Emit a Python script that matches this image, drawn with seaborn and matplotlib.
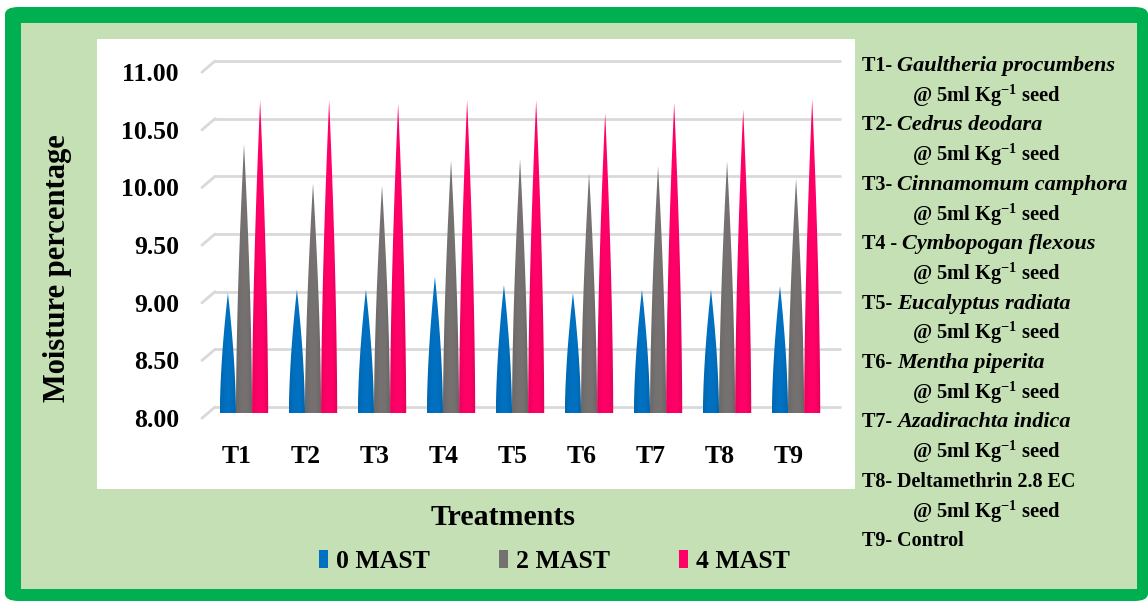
import numpy as np
import pandas as pd
import seaborn as sns
import matplotlib.pyplot as plt
from matplotlib.patches import Polygon, Rectangle, FancyBboxPatch, Patch
from matplotlib.colors import LinearSegmentedColormap, to_rgb
import matplotlib.transforms as mtrans

# data
treatments = ['T1', 'T2', 'T3', 'T4', 'T5', 'T6', 'T7', 'T8', 'T9']
stages = ['0 MAST', '2 MAST', '4 MAST']
mast0 = [9.04, 9.07, 9.07, 9.18, 9.11, 9.04, 9.07, 9.07, 9.10]
mast2 = [10.33, 9.99, 9.97, 10.19, 10.20, 10.08, 10.14, 10.18, 10.03]
mast4 = [10.71, 10.71, 10.68, 10.71, 10.71, 10.60, 10.69, 10.63, 10.72]
yticks = [8.0, 8.5, 9.0, 9.5, 10.0, 10.5, 11.0]

key_names = [('T1- ', 'Gaultheria procumbens', True),
             ('T2- ', 'Cedrus deodara', True),
             ('T3- ', 'Cinnamomum camphora', True),
             ('T4 - ', 'Cymbopogan flexous', True),
             ('T5- ', 'Eucalyptus radiata', True),
             ('T6- ', 'Mentha piperita', True),
             ('T7- ', 'Azadirachta indica', True),
             ('T8- ', 'Deltamethrin 2.8 EC', False),
             ('T9- ', 'Control', False)]
dose = '@ 5ml Kg$^{-1}$ seed'

colors = ['#0070C0', '#767171', '#FF0066']

df = pd.DataFrame({
    'Treatment': treatments * 3,
    'Stage': np.repeat(stages, len(treatments)),
    'Moisture': mast0 + mast2 + mast4,
})

sns.set_style('white')
plt.rcParams['font.family'] = ['Liberation Serif', 'DejaVu Serif']
plt.rcParams['font.weight'] = 'bold'
plt.rcParams['mathtext.fontset'] = 'custom'
plt.rcParams['mathtext.rm'] = 'Liberation Serif:bold'
plt.rcParams['mathtext.it'] = 'Liberation Serif:bold'
plt.rcParams['mathtext.default'] = 'rm'
for k in ['text.color', 'axes.labelcolor', 'xtick.color', 'ytick.color']:
    plt.rcParams[k] = 'black'

fig = plt.figure(figsize=(11.48, 6.01), dpi=100)
fig.patch.set_facecolor('white')
W, H = 1148, 601

def px(dx, dy):
    # shift by screen pixels (dy positive = up)
    return mtrans.ScaledTranslation(dx / 100, dy / 100, fig.dpi_scale_trans)

# frame: green border, light green fill, white plot panel
fig.patches.append(FancyBboxPatch((5 / W, 0), 1 - 5 / W, (H - 7) / H,
                                  boxstyle='round,pad=0,rounding_size=0.012',
                                  transform=fig.transFigure, facecolor='#00B050',
                                  edgecolor='none', zorder=-3))
fig.patches.append(Rectangle((21 / W, 1 - 589 / H), (1137 - 21) / W, (589 - 23) / H,
                             transform=fig.transFigure, facecolor='#C5E0B4',
                             edgecolor='none', zorder=-2))
fig.patches.append(Rectangle((97 / W, 1 - 489 / H), (855 - 97) / W, (489 - 39) / H,
                             transform=fig.transFigure, facecolor='white',
                             edgecolor='none', zorder=-1))

ax = fig.add_axes([0.1825, 0.3128, 0.541, 0.5757])
ax.set_facecolor('none')

sns.barplot(data=df, x='Treatment', y='Moisture', hue='Stage', palette=colors,
            saturation=1, width=0.7, errorbar=None, legend=False, ax=ax)

ymin, ymax = 8.0, 11.0

# turn each bar into a cone with slightly bulging sides
f = np.linspace(0, 1, 60)
for i, p in enumerate(list(ax.patches)):
    x0, w, top = p.get_x(), p.get_width(), p.get_height()
    base = np.array(to_rgb(p.get_facecolor()))
    cmap = LinearSegmentedColormap.from_list('c', [base * 0.92, base, base, base * 0.88])
    half = w / 2 * (1 - f ** 1.7)
    ys = ymin + f * (top - ymin)
    xc = x0 + w / 2
    pts = list(zip(xc - half, ys)) + list(zip((xc + half)[::-1], ys[::-1]))
    cone = Polygon(pts, closed=True, facecolor='none', edgecolor='none')
    ax.add_patch(cone)
    grad = np.linspace(0, 1, 64).reshape(1, -1)
    im = ax.imshow(grad, extent=[x0, x0 + w, ymin, top], aspect='auto',
                   cmap=cmap, zorder=3 + i // len(treatments), interpolation='bilinear')
    im.set_clip_path(cone)
    p.set_visible(False)

ax.set_xlim(-0.5, len(treatments) - 0.5)
ax.set_ylim(ymin, ymax)
ax.set_yticks(yticks)
ax.set_yticklabels([f'{v:.2f}' for v in yticks])

# gridlines sit on the back wall of the 3-D chart, with a short floor edge on the left
for v in yticks:
    ax.plot([-0.42, 8.64], [v, v], color='#D9D9D9', lw=2, zorder=1, clip_on=False,
            transform=ax.transData + px(0, 6))
    ax.plot([-0.61, -0.42], [v - 0.045, v + 0.052], color='#D9D9D9', lw=2, zorder=1,
            clip_on=False)

for s in ax.spines.values():
    s.set_visible(False)
ax.tick_params(axis='x', length=0, labelsize=18.5, pad=23)
ax.tick_params(axis='y', length=0, labelsize=18.5, pad=22)
for lab in ax.get_xticklabels():
    lab.set_transform(lab.get_transform() + px(-7, 0))
for lab in ax.get_yticklabels():
    lab.set_transform(lab.get_transform() + px(0, -5))

ax.set_xlabel('Treatments', fontsize=21.5, fontweight='bold')
ax.xaxis.set_label_coords(0.4726, -0.262)
ax.set_ylabel('Moisture percentage', fontsize=22, fontweight='bold')
ax.yaxis.set_label_coords(-0.222, 0.419)

handles = [Patch(facecolor=c, edgecolor='none') for c in colors]
fig.legend(handles, stages, loc='center', bbox_to_anchor=(0.483, 0.066), ncol=3,
           frameon=False, prop={'size': 18.5, 'weight': 'bold'}, handlelength=0.35,
           handleheight=0.7, handletextpad=0.3, columnspacing=2.7)

# treatment key on the right
y = 66
for prefix, name, italic in key_names:
    t = fig.text(862 / W, 1 - y / H, prefix, fontsize=14.5, fontweight='bold', va='center')
    ax.annotate(name, xy=(1, 0), xycoords=t, va='bottom', ha='left',
                fontsize=16 if italic else 14.5, fontweight='bold',
                fontstyle='italic' if italic else 'normal', annotation_clip=False)
    y += 29.7
    if prefix != 'T9- ':
        fig.text(912 / W, 1 - y / H, dose, fontsize=14.8, fontweight='bold', va='center')
        y += 29.7

fig.savefig('out.png', dpi=100, facecolor=fig.get_facecolor())
